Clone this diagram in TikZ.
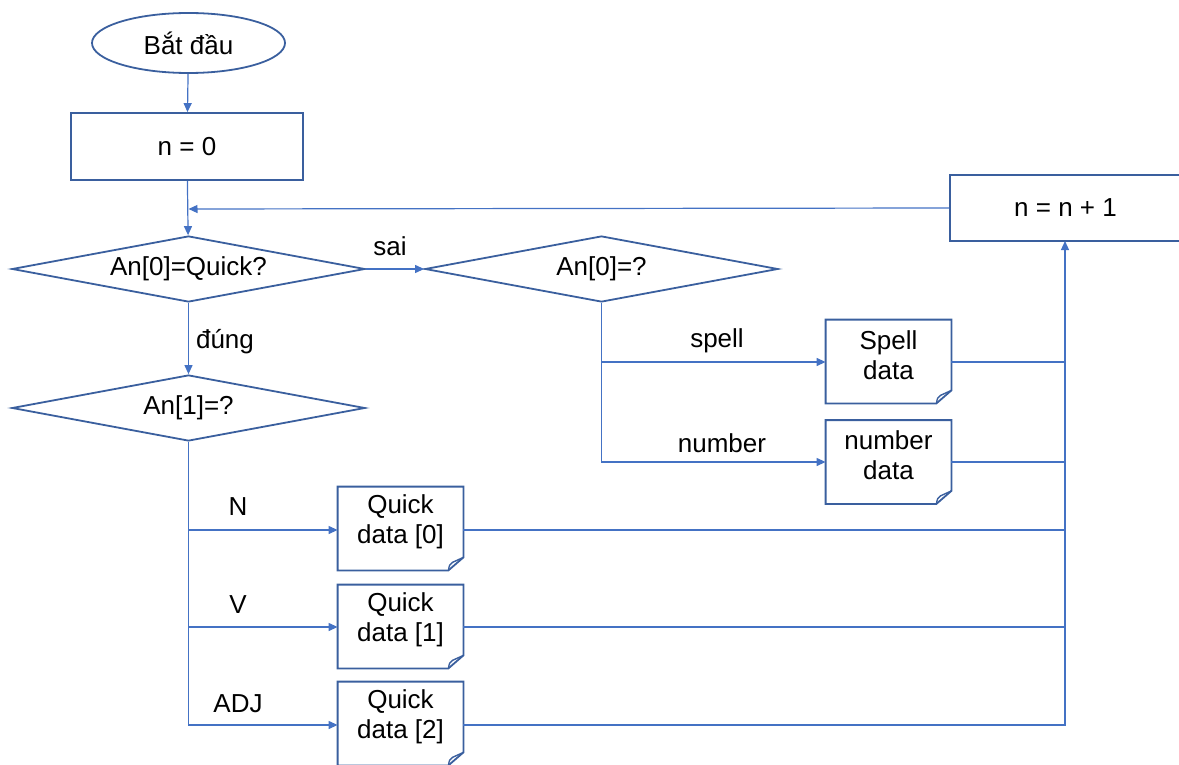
\documentclass[tikz,border=0pt]{standalone}
\usepackage{fontspec}
\setmainfont{Liberation Sans}
\usetikzlibrary{shapes.geometric,arrows.meta}
\definecolor{shp}{HTML}{3A5F9E}
\definecolor{con}{HTML}{4472C4}
\tikzset{
 basefont/.style={font=\fontsize{13}{15}\selectfont, inner sep=0pt, text=black},
 shapeline/.style={draw=shp, line width=0.9pt},
 startbox/.style={basefont, ellipse, shapeline, minimum width=96.5pt, minimum height=30pt},
 procbox/.style={basefont, rectangle, shapeline},
 decbox/.style={basefont, diamond, aspect=5.35, shapeline, minimum width=176.5pt, minimum height=33pt},
 docbox/.style={basefont, align=center, minimum width=62.5pt, minimum height=41.5pt},
 conn/.style={draw=con, line width=0.6pt},
 arr/.style={conn, -{Triangle[length=4.5pt,width=4pt]}},
 lbl/.style={basefont},
}
\newcommand\docframe[1]{%
 \draw[shapeline] ([yshift=-3.25pt]#1.north west) -- ([yshift=-3.25pt]#1.north east) -- ([yshift=3.25pt]#1.south east) -- ([xshift=-7.5pt,yshift=-3.25pt]#1.south east) -- ([yshift=-3.25pt]#1.south west) -- cycle;
 \draw[shapeline, line width=0.7pt] ([xshift=-7.5pt,yshift=-3.25pt]#1.south east) .. controls ([xshift=-7pt,yshift=-0.5pt]#1.south east) .. ([xshift=-5.5pt,yshift=0.75pt]#1.south east) -- ([yshift=3.25pt]#1.south east);
}
\begin{document}
\begin{tikzpicture}[x=0.5pt,y=-0.5pt]
\useasboundingbox (0,0) rectangle (1179,765);
% nodes
\node[startbox] (start) at (188.5,43) {Bắt đầu};
\node[procbox, minimum width=116pt, minimum height=33.5pt] (n0) at (187,146.5) {n = 0};
\node[decbox] (d1) at (188.5,269) {An[0]=Quick?};
\node[decbox] (d2) at (601.5,269) {An[0]=?};
\node[decbox] (d3) at (188.5,408) {An[1]=?};
\node[procbox, minimum width=115.5pt, minimum height=33pt] (inc) at (1065.5,208) {n = n + 1};
\node[docbox] (spell) at (888.5,355) {Spell\\data};
\node[docbox] (num) at (888.5,455.5) {number\\data};
\node[docbox] (q0) at (400.5,522) {Quick\\data [0]};
\node[docbox] (q1) at (400.5,620) {Quick\\data [1]};
\node[docbox] (q2) at (400.5,717) {Quick\\data [2]};
\docframe{spell}
\docframe{num}
\docframe{q0}
\docframe{q1}
\docframe{q2}
\coordinate (join) at (188.5,209);
\coordinate (up) at (1065,241);
% connectors
\draw[arr] (start) -- (n0);
\draw[arr] (n0) -- (d1);
\draw[arr] (inc.west) -- (join);
\draw[arr] (d1) -- (d2);
\draw[arr] (d1) -- (d3);
\draw[arr] (d3.south) |- ([yshift=-4pt]q0.west);
\draw[arr] (d3.south) |- ([yshift=-3.5pt]q1.west);
\draw[arr] (d3.south) |- ([yshift=-4pt]q2.west);
\draw[arr] (d2.south) |- ([yshift=-3.5pt]spell.west);
\draw[arr] (d2.south) |- ([yshift=-3.25pt]num.west);
\draw[arr] ([yshift=-4pt]q2.east) -| (up);
\draw[conn] ([yshift=-4pt]q0.east) -- ([yshift=-4pt]q0.east -| up);
\draw[conn] ([yshift=-3.5pt]q1.east) -- ([yshift=-3.5pt]q1.east -| up);
\draw[conn] ([yshift=-3.5pt]spell.east) -- ([yshift=-3.5pt]spell.east -| up);
\draw[conn] ([yshift=-3.25pt]num.east) -- ([yshift=-3.25pt]num.east -| up);
% labels
\node[lbl] (lsai) at (390,246) {sai};
\node[lbl] (ldung) at (225,342) {đúng};
\node[lbl] (lspell) at (717,341) {spell};
\node[lbl] (lnum) at (722,443) {number};
\node[lbl] (lN) at (238,507) {N};
\node[lbl] (lV) at (238,605) {V};
\node[lbl] (lADJ) at (238,704) {ADJ};
\end{tikzpicture}
\end{document}
